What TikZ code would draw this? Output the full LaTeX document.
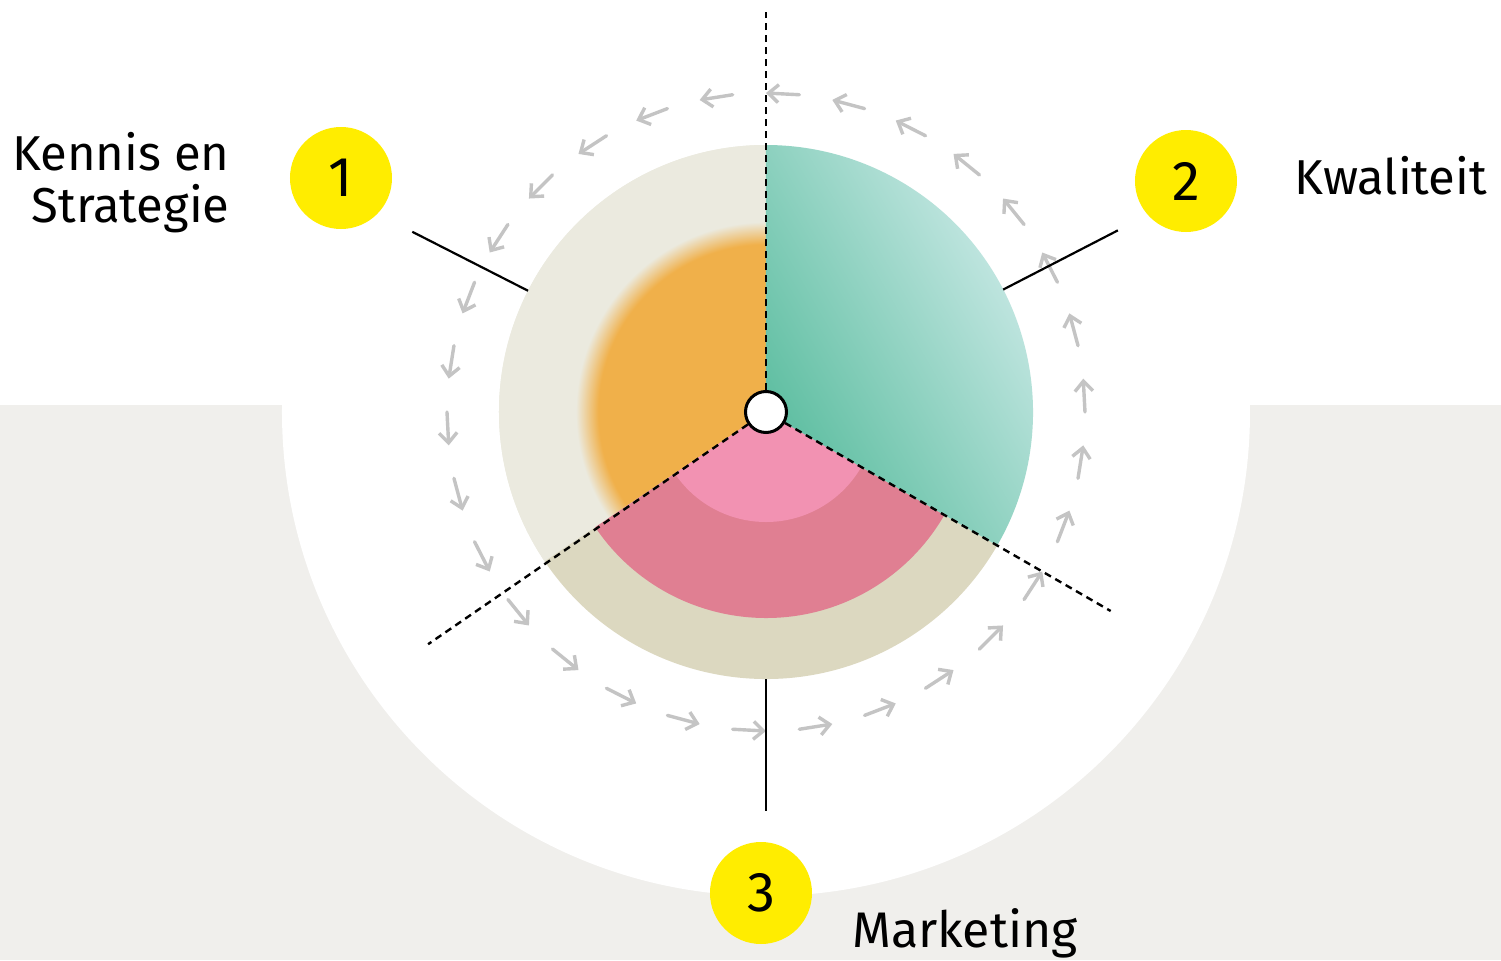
\documentclass[tikz,border=0pt]{standalone}
\usepackage{fontspec}
\setmainfont{Fira Sans}
\usetikzlibrary{arrows.meta}
\definecolor{paper}{RGB}{240,239,236}
\definecolor{sandlight}{RGB}{235,234,223}
\definecolor{sanddark}{RGB}{220,216,192}
\definecolor{orng}{RGB}{240,176,74}
\definecolor{rose}{RGB}{224,127,146}
\definecolor{roselight}{RGB}{242,146,178}
\definecolor{tealdark}{RGB}{91,189,159}
\definecolor{teallight}{RGB}{214,238,238}
\definecolor{badge}{RGB}{255,237,0}
\definecolor{flow}{RGB}{196,196,196}
\pgfdeclareradialshading{orangeblur}{\pgfpoint{0bp}{0bp}}{color(0bp)=(orng); color(15.7bp)=(orng); color(17.8bp)=(sandlight); color(50bp)=(sandlight)}
\tikzset{
  numbadge/.style={circle, fill=badge, minimum size=51pt, inner sep=0pt, font=\fontsize{28}{30}\selectfont},
  flowarrow/.style={draw=flow, line width=1.7pt, line cap=round, -{Straight Barb[length=5pt,width=9pt]}},
  divider/.style={dash pattern=on 3.5pt off 2.5pt, line width=1.2pt},
  leader/.style={line width=1.1pt},
  hubdot/.style={circle, draw, fill=white, line width=1.5pt, minimum size=20.5pt, inner sep=0pt},
  areatext/.style={inner sep=0pt, font=\fontsize{24.5}{26}\selectfont}
}
\begin{document}
\begin{tikzpicture}[x=0.5pt,y=0.5pt]
  \useasboundingbox (-766,-548) rectangle (735,412);
  \fill[white] (-766,-548) rectangle (735,412);
  \fill[paper] (-766,-548) rectangle (735,7);
  \fill[white] (0,0) circle (484);
  \fill[sandlight] (0,0) -- (90:267) arc[start angle=90, end angle=214, radius=267] -- cycle;
  \begin{scope}
    \clip (0,0) -- (90:267) arc[start angle=90, end angle=214, radius=267] -- cycle;
    \shade[shading=orangeblur] (0,0) circle (267);
  \end{scope}
  \fill[sanddark] (0,0) -- (214:267) arc[start angle=214, end angle=330, radius=267] -- cycle;
  \fill[rose] (0,0) -- (214:206) arc[start angle=214, end angle=330, radius=206] -- cycle;
  \fill[roselight] (0,0) -- (214:110) arc[start angle=214, end angle=330, radius=110] -- cycle;
  \shade[left color=tealdark, right color=teallight, shading angle=120] (0,0) -- (-30:267) arc[start angle=-30, end angle=90, radius=267] -- cycle;
  \foreach \a in {90,102,...,438}
    \draw[flowarrow] (\a-6:319) -- (\a:319);
  \node[hubdot] (hub) at (0,0) {};
  \coordinate (cutN) at (90:400);
  \coordinate (cutSE) at (-30:398);
  \coordinate (cutSW) at (214.5:410);
  \foreach \c in {cutN,cutSE,cutSW}
    \draw[divider] (hub) -- (\c);
  \coordinate (lead1a) at (153:267);
  \coordinate (lead1b) at (153:397);
  \coordinate (lead2a) at (27.3:267);
  \coordinate (lead2b) at (27.3:396);
  \coordinate (lead3a) at (270:267);
  \coordinate (lead3b) at (270:399);
  \foreach \i in {1,2,3}
    \draw[leader] (lead\i a) -- (lead\i b);
  \node[numbadge] (n1) at (-425,234) {1};
  \node[numbadge] (n2) at (420,231) {2};
  \node[numbadge] (n3) at (-5,-481) {3};
  \node[areatext, anchor=east, align=right] (t1) at (-536,229) {Kennis en\\Strategie};
  \node[areatext, anchor=base west] (t2) at (528,218) {Kwaliteit};
  \node[areatext, anchor=base west, font=\fontsize{25}{27}\selectfont] (t3) at (86,-535) {Marketing};
\end{tikzpicture}
\end{document}
